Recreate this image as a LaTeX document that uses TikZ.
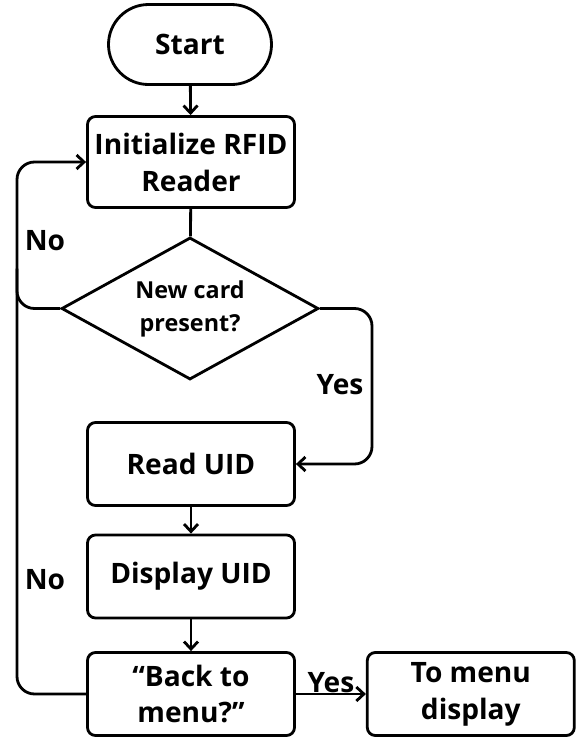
\documentclass[tikz,border=0pt]{standalone}
\usepackage{fontspec}
\setmainfont{Open Sans}
\usetikzlibrary{shapes.geometric, calc, arrows.meta, positioning}

\begin{document}
\begin{tikzpicture}[>={Straight Barb[length=1.5mm, width=2.8mm]}, line width=1.6pt,
  font=\bfseries\fontsize{16}{21}\selectfont,
  proc/.style={draw, rounded corners=0.16cm, fill=white, align=center, minimum width=4.14cm, minimum height=1.66cm, inner sep=2pt},
  term/.style={draw, rounded corners=0.8cm, fill=white, minimum width=3.26cm, minimum height=1.6cm},
  decide/.style={draw, diamond, aspect=1.8, fill=white, align=center, minimum width=5.14cm, minimum height=2.84cm, inner sep=0pt, font=\bfseries\fontsize{13.3}{18.7}\selectfont},
  lbl/.style={inner sep=1pt}]
\useasboundingbox (0,0) rectangle (11.66,-14.94);
\node[term] (start) at (3.8,-0.89) {Start};
\node[proc, minimum height=1.82cm] (init) at (3.82,-3.24) {Initialize RFID\\Reader};
\node[decide] (card) at (3.8,-6.17) {New card\\present?};
\node[proc] (read) at (3.82,-9.28) {Read UID};
\node[proc] (disp) at (3.82,-11.53) {Display UID};
\node[proc] (back) at (3.82,-13.88) {“Back to\\menu?”};
\node[proc, right=1.4cm of back] (menu) {To menu\\display};
\coordinate (lft) at (0.34,0);
\coordinate (rgt) at (7.44,0);
% main flow
\draw[->] (start) -- (init);
\draw (init) -- (card);
\draw[->] (read) -- (disp);
\draw[->] (disp) -- (back);
% branches
\draw[->, rounded corners=0.35cm] (card.east) -| (rgt |- read.east) -- (read.east);
\draw[rounded corners=0.35cm] (card.west) -| ($(lft |- card.west)+(0,0.8)$);
\draw[->, rounded corners=0.35cm] (back.west) -| (lft |- init.west) -- (init.west);
\draw[->] (back) -- node[lbl, above=-1pt] (yes2) {Yes} (menu);
\node[lbl] (no1) at (0.9,-4.82) {No};
\node[lbl] (no2) at (0.9,-11.6) {No};
\node[lbl] (yes1) at (6.8,-7.7) {Yes};
\end{tikzpicture}
\end{document}
